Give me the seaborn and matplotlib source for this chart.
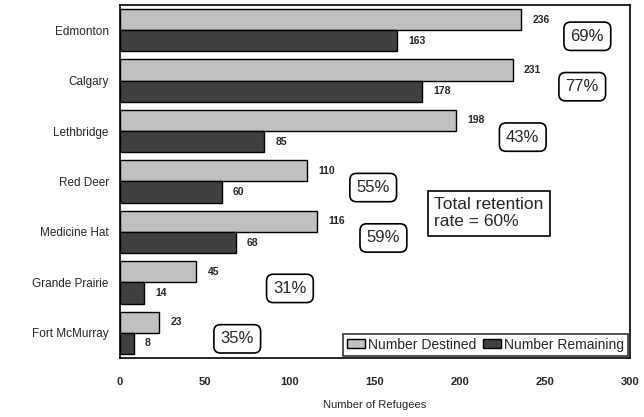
import pandas as pd
import matplotlib.pyplot as plt
import seaborn as sns

# Data
cities = ['Edmonton', 'Calgary', 'Lethbridge', 'Red Deer', 'Medicine Hat',
          'Grande Prairie', 'Fort McMurray']
destined = [236, 231, 198, 110, 116, 45, 23]
remaining = [163, 178, 85, 60, 68, 14, 8]
retention = ['69%', '77%', '43%', '55%', '59%', '31%', '35%']
# x position (data units) of each retention box
box_x = [275, 272, 237, 149, 155, 100, 69]
total_text = 'Total retention\nrate = 60%'

df = pd.DataFrame({
    'city': cities * 2,
    'value': destined + remaining,
    'series': ['Number Destined'] * len(cities) + ['Number Remaining'] * len(cities),
})

sns.set_style('white')
plt.rcParams['font.family'] = ['Liberation Sans', 'DejaVu Sans']

fig = plt.figure(figsize=(6.44, 4.17), dpi=100)
ax = fig.add_axes([0.1863, 0.1415, 0.7917, 0.8465])

sns.barplot(data=df, y='city', x='value', hue='series', orient='h',
            palette=['#c0c0c0', '#404040'], edgecolor='black', linewidth=1,
            width=0.84, ax=ax, legend=True)

for cont in ax.containers:
    ax.bar_label(cont, padding=8, fontsize=7.5, fontweight='bold')

for i, (txt, bx) in enumerate(zip(retention, box_x)):
    ax.text(bx, i + 0.12, txt, ha='center', va='center', fontsize=12,
            bbox=dict(boxstyle='round,pad=0.4', fc='white', ec='black', lw=1.2))

ax.text(185, 3.63, total_text, ha='left', va='center', fontsize=12.5,
        linespacing=1.2,
        bbox=dict(boxstyle='square,pad=0.35', fc='white', ec='black', lw=1.2))

ax.set_xlim(0, 300)
ax.set_ylim(6.5, -0.5)
ax.set_xticks(range(0, 301, 50))
ax.set_xlabel('Number of Refugees', fontsize=8, labelpad=9)
ax.set_ylabel('')
ax.tick_params(axis='x', labelsize=8, length=0, pad=14)
ax.tick_params(axis='y', labelsize=8.5, length=0, pad=8)
for lab in ax.get_xticklabels():
    lab.set_fontweight('bold')
for s in ax.spines.values():
    s.set_color('black')
    s.set_linewidth(1.2)

leg = ax.legend(loc='lower right', ncol=2, fontsize=10, frameon=True,
                fancybox=False, edgecolor='black', handlelength=1.3,
                handleheight=0.6, handletextpad=0.2, columnspacing=0.5,
                borderpad=0.3, borderaxespad=0.15)
leg.get_frame().set_linewidth(1.2)

fig.savefig('out.png', dpi=100)
plt.close(fig)
